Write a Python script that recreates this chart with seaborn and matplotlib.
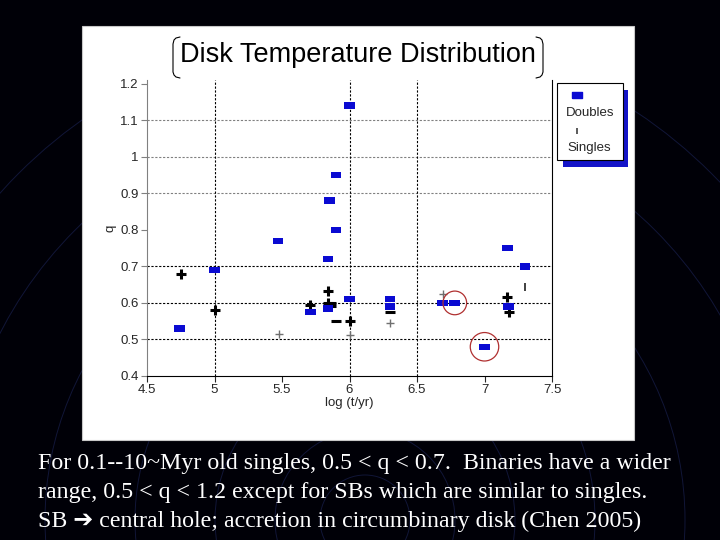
import numpy as np
import seaborn as sns
import pandas as pd
import matplotlib.pyplot as plt
from matplotlib.patches import Rectangle, Circle

# doubles (blue boxes)
double_logt = [4.74, 5.0, 5.47, 5.84, 5.85, 5.90, 5.90, 6.0, 6.0, 5.71, 5.84,
               6.3, 6.3, 6.69, 6.78, 7.0, 7.17, 7.30, 7.18]
double_q = [0.53, 0.69, 0.77, 0.72, 0.88, 0.95, 0.80, 1.14, 0.61, 0.575, 0.585,
            0.61, 0.59, 0.60, 0.60, 0.48, 0.75, 0.70, 0.59]

# singles, bold crosses
single_logt = [4.75, 5.0, 5.71, 5.84, 5.84, 6.0, 7.17, 7.18]
single_q = [0.68, 0.58, 0.595, 0.633, 0.60, 0.55, 0.615, 0.575]
# singles drawn as bars only
bar_logt = [5.71, 5.86, 5.86, 5.90, 6.3]
bar_q = [0.58, 0.600, 0.591, 0.55, 0.575]
# singles, faint crosses
faint_logt = [5.48, 6.0, 6.3, 6.69]
faint_q = [0.515, 0.513, 0.545, 0.625]
# single drawn as a small vertical tick
tick_logt = [7.30]
tick_q = [0.644]

# circled doubles
circled_logt = [6.78, 7.0]
circled_q = [0.60, 0.48]

x_ticks = [4.5, 5, 5.5, 6, 6.5, 7, 7.5]
x_labels = ["4.5", "5", "5.5", "6", "6.5", "7", "7.5"]
q_ticks = [0.4, 0.5, 0.6, 0.7, 0.8, 0.9, 1.0, 1.1, 1.2]
q_labels = ["0.4", "0.5", "0.6", "0.7", "0.8", "0.9", "1", "1.1", "1.2"]

caption = ["For 0.1--10~Myr old singles, 0.5 < q < 0.7.  Binaries have a wider",
           "range, 0.5 < q < 1.2 except for SBs which are similar to singles.",
           "SB \u2794 central hole; accretion in circumbinary disk (Chen 2005)"]

sns.set_style("white")
plt.rcParams["font.family"] = ["Liberation Sans", "DejaVu Sans"]

fig = plt.figure(figsize=(7.2, 5.4), dpi=100)

# slide background in pixel coords
bg = fig.add_axes([0, 0, 1, 1])
rows = np.arange(540)
stops = [0, 30, 150, 300, 450, 540]
r = np.interp(rows, stops, [0.0, 0.0, 0.04, 0.06, 0.06, 0.01])
g = np.interp(rows, stops, [0.0, 0.0, 0.04, 0.06, 0.06, 0.01])
b = np.interp(rows, stops, [0.03, 0.10, 0.38, 0.46, 0.42, 0.16])
grad = np.dstack([r, g, b])[:, 0, :][:, None, :].repeat(2, axis=1)
bg.imshow(grad, extent=[0, 720, 540, 0], aspect="auto")
for rad in [45, 90, 150, 230, 320, 410, 490]:
    bg.add_patch(Circle((365, 520), rad, fill=False, ec="#3848a8", lw=0.7, alpha=0.3))
bg.add_patch(Rectangle((82, 26), 552, 414, fc="white", ec="#c8c8c8", lw=0.8))
bg.set_xlim(0, 720)
bg.set_ylim(540, 0)
bg.axis("off")

# title with bracket corners
bg.text(358, 55.5, "Disk Temperature Distribution", ha="center", va="center",
        fontsize=19.5, color="black")
bg.plot([180, 176, 174, 173, 173, 174, 176, 180],
        [37, 38, 40, 44, 72, 75, 77, 78], color="black", lw=0.8)
bg.plot([536, 540, 542, 543, 543, 542, 540, 536],
        [37, 38, 40, 44, 72, 75, 77, 78], color="black", lw=0.8)

# legend box with blue shadow
bg.add_patch(Rectangle((563, 90), 65, 77, fc="#1414c8", ec="none"))
bg.add_patch(Rectangle((557, 83), 66, 77, fc="white", ec="black", lw=0.8))
box = [(-1, -0.6), (1, -0.6), (1, 0.6), (-1, 0.6), (-1, -0.6)]
bg.plot([577], [95], marker=box, ms=7.5, color="#0a0ad2", ls="none")
bg.plot([577], [131], marker="|", ms=5, mew=1.2, color="#404040", ls="none")
bg.text(590, 113, "Doubles", ha="center", va="center", fontsize=9.5)
bg.text(589, 148, "Singles", ha="center", va="center", fontsize=9.5)

# caption
for i, line in enumerate(caption):
    bg.text(38, 464 + 28.5 * i, line, ha="left", va="center", color="white",
            fontsize=17.2, family=["Liberation Serif", "DejaVu Sans"])

# chart
ax = fig.add_axes([147 / 720, 1 - 376 / 540, 405 / 720, 296 / 540])
ax.set_facecolor("white")

for yv in [0.5, 0.6, 0.7]:
    ax.axhline(yv, color="black", lw=0.8, ls=(0, (2, 1.5)), zorder=0)
for yv in [0.9, 1.0, 1.1]:
    ax.axhline(yv, color="#808080", lw=0.8, ls=(0, (2, 1.5)), zorder=0)
for xv in [5, 6, 6.5]:
    ax.axvline(xv, color="black", lw=0.8, ls=(0, (2, 1.5)), zorder=0)

doubles = pd.DataFrame({"logt": double_logt, "q": double_q})
singles = pd.DataFrame({"logt": single_logt, "q": single_q})
bars = pd.DataFrame({"logt": bar_logt, "q": bar_q})
faint = pd.DataFrame({"logt": faint_logt, "q": faint_q})
ticks = pd.DataFrame({"logt": tick_logt, "q": tick_q})
circled = pd.DataFrame({"logt": circled_logt, "q": circled_q})

sns.scatterplot(data=faint, x="logt", y="q", ax=ax, marker="+", s=40,
                color="#707070", linewidth=1.0, zorder=3)
sns.scatterplot(data=ticks, x="logt", y="q", ax=ax, marker="|", s=30,
                color="#404040", linewidth=1.4, zorder=3)
sns.scatterplot(data=singles, x="logt", y="q", ax=ax, marker="+", s=45,
                color="black", linewidth=2.2, zorder=3)
sns.scatterplot(data=bars, x="logt", y="q", ax=ax, marker="_", s=45,
                color="black", linewidth=2.2, zorder=3)
sns.scatterplot(data=doubles, x="logt", y="q", ax=ax, marker=box, s=60,
                color="#0a0ad2", edgecolor="none", zorder=4)
ax.scatter(circled["logt"], circled["q"], s=[290, 420], facecolors="none",
           edgecolors="#b03030", linewidths=0.9, zorder=5)

ax.set_xlim(4.5, 7.5)
ax.set_ylim(0.4, 1.21)
ax.set_xticks(x_ticks)
ax.set_xticklabels(x_labels)
ax.set_yticks(q_ticks)
ax.set_yticklabels(q_labels)
ax.tick_params(axis="both", labelsize=9.5, length=4, width=0.8, direction="out",
               pad=2, left=True, bottom=True)
ax.tick_params(axis="y", color="#808080")
ax.set_xlabel("log (t/yr)", fontsize=9.5)
ax.set_ylabel("q", fontsize=9.5)
ax.xaxis.set_label_coords(0.5, -0.07)
ax.yaxis.set_label_coords(-0.075, 0.5)
ax.spines["top"].set_visible(False)
ax.spines["left"].set_color("#808080")
ax.spines["bottom"].set_color("black")
ax.spines["right"].set_color("black")
for s in ["left", "bottom", "right"]:
    ax.spines[s].set_linewidth(0.8)

fig.savefig("out.png", dpi=100)
